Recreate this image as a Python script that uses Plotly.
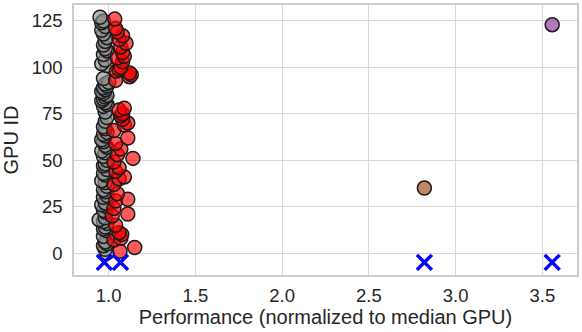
import plotly.graph_objects as go

# performance per GPU (id 0..127), normalized to median GPU
perf = [
    0.99, 1.065, 0.98, 1.15, 0.97, 0.99, 0.98, 1.03, 1.07, 0.97,
    1.075, 1.06, 0.99, 0.97, 0.98, 1.04, 0.99, 0.97, 0.945, 0.98,
    1.02, 1.11, 0.98, 0.97, 1.03, 0.99, 0.96, 0.98, 1.04, 1.11,
    0.97, 0.99, 1.05, 0.98, 0.97, 2.82, 0.99, 1.03, 0.98, 0.96,
    1.06, 1.09, 0.98, 0.97, 1.04, 0.99, 1.06, 0.97, 0.98, 1.03,
    0.99, 1.14, 0.97, 1.05, 0.98, 0.96, 1.07, 0.99, 0.98, 1.04,
    0.97, 0.96, 1.11, 0.98, 0.97, 0.99, 1.03, 0.98, 0.97, 1.09,
    1.11, 0.98, 1.08, 0.99, 1.07, 1.08, 0.98, 1.06, 1.09, 0.97,
    0.99, 0.98, 0.96, 0.97, 0.98, 0.99, 0.97, 0.96, 0.98, 0.97,
    0.99, 0.98, 1.00, 1.04, 0.97, 1.12, 1.13, 1.12, 1.045, 1.06,
    1.07, 0.99, 0.96, 1.08, 0.98, 1.05, 1.09, 0.97, 1.08, 0.99,
    0.98, 1.07, 0.97, 1.10, 0.98, 1.06, 0.99, 1.08, 0.97, 1.05,
    0.96, 1.04, 0.98, 3.557, 0.96, 0.97, 1.035, 0.95,
]
# cluster label per GPU: 0 gray, 1 red, 2 brown, 3 purple
labels = [
    0, 1, 0, 1, 0, 0, 0, 1, 1, 0,
    1, 1, 0, 0, 0, 1, 0, 0, 0, 0,
    1, 1, 0, 0, 1, 0, 0, 0, 1, 1,
    0, 0, 1, 0, 0, 2, 0, 1, 0, 0,
    1, 1, 0, 0, 1, 0, 1, 0, 0, 1,
    0, 1, 0, 1, 0, 0, 1, 0, 0, 1,
    0, 0, 1, 0, 0, 0, 1, 0, 0, 1,
    1, 0, 1, 0, 1, 1, 0, 1, 1, 0,
    0, 0, 0, 0, 0, 0, 0, 0, 0, 0,
    0, 0, 0, 1, 0, 1, 1, 1, 1, 1,
    1, 0, 0, 1, 0, 1, 1, 0, 1, 0,
    0, 1, 0, 1, 0, 1, 0, 1, 0, 1,
    0, 1, 0, 3, 0, 0, 1, 0,
]
gpu_ids = list(range(len(perf)))

centroids = [0.975, 1.068, 2.82, 3.557]
centroid_y = [-5, -5, -5, -5]

cluster_colors = ['rgba(145,145,145,0.65)', 'rgba(255,0,0,0.65)',
                  'rgba(178,92,52,0.75)', 'rgba(150,60,165,0.7)']

fig = go.Figure()

for c, col in enumerate(cluster_colors):
    xs = [p for p, l in zip(perf, labels) if l == c]
    ys = [i for i, l in zip(gpu_ids, labels) if l == c]
    fig.add_trace(go.Scatter(
        x=xs, y=ys, mode='markers',
        marker=dict(size=14, color=col, line=dict(color='#1a1a1a', width=1.5)),
        showlegend=False
    ))

fig.add_trace(go.Scatter(
    x=centroids, y=centroid_y, mode='markers',
    marker=dict(symbol='x-thin', size=15, line=dict(color='blue', width=3.5)),
    showlegend=False
))

axis_style = dict(
    showgrid=True, gridcolor='#d8d8d8', gridwidth=1.2,
    showline=True, linecolor='#cccccc', linewidth=1.5, mirror=True,
    zeroline=False, ticks='', tickfont=dict(size=18.5, color='#262626'),
)

fig.update_layout(
    width=582, height=332,
    margin=dict(l=74, r=3, t=4, b=57),
    paper_bgcolor='white', plot_bgcolor='white',
    font=dict(family='Liberation Sans, Arial', color='#262626'),
    xaxis=dict(range=[0.80, 3.70], tickvals=[1.0, 1.5, 2.0, 2.5, 3.0, 3.5],
               tickformat='.1f', ticklabelstandoff=3,
               title=dict(text='Performance (normalized to median GPU)',
                          font=dict(size=20), standoff=4), **axis_style),
    yaxis=dict(range=[-11.8, 133.6], tickvals=[0, 25, 50, 75, 100, 125],
               ticklabelstandoff=6,
               title=dict(text='GPU ID', font=dict(size=20), standoff=8),
               **axis_style),
)

fig.write_html("out.html", config={'displayModeBar': False},
               post_script="document.body.style.margin='0';")
